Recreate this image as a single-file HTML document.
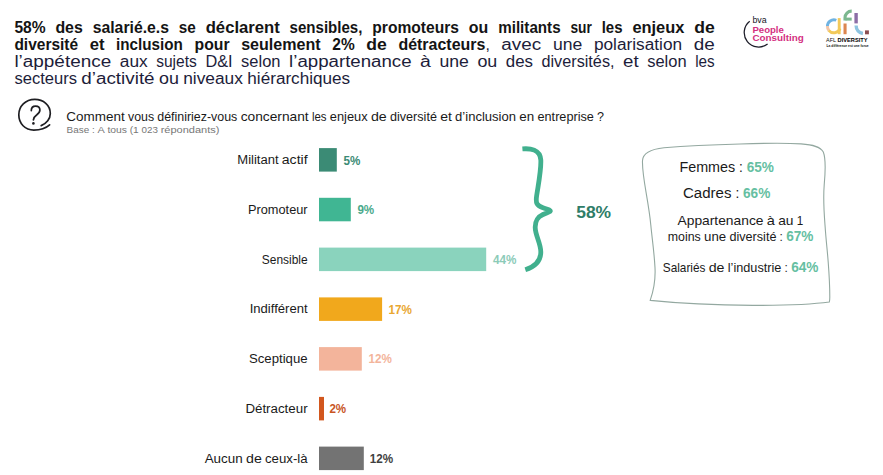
<!DOCTYPE html>
<html lang="fr">
<head>
<meta charset="utf-8">
<title>Diversité et inclusion</title>
<style>
html,body{margin:0;padding:0;background:#ffffff;}
body{width:883px;height:475px;overflow:hidden;font-family:'Liberation Sans', sans-serif;}
svg{display:block;position:absolute;left:0;top:0;}
svg text{font-family:"Liberation Sans", sans-serif;white-space:pre;}
</style>
</head>
<body>
<svg width="883" height="475" viewBox="0 0 883 475">
<rect x="0" y="0" width="883" height="475" fill="#ffffff"/>
<text x="14.4" y="33.1" textLength="31.2" lengthAdjust="spacingAndGlyphs" font-size="15.8" font-weight="bold" fill="#141414">58%</text>
<text x="55.4" y="33.1" textLength="27.4" lengthAdjust="spacingAndGlyphs" font-size="15.8" font-weight="bold" fill="#141414">des</text>
<text x="92.7" y="33.1" textLength="76.3" lengthAdjust="spacingAndGlyphs" font-size="15.8" font-weight="bold" fill="#141414">salarié.e.s</text>
<text x="178.8" y="33.1" textLength="17.0" lengthAdjust="spacingAndGlyphs" font-size="15.8" font-weight="bold" fill="#141414">se</text>
<text x="205.7" y="33.1" textLength="74.1" lengthAdjust="spacingAndGlyphs" font-size="15.8" font-weight="bold" fill="#141414">déclarent</text>
<text x="289.6" y="33.1" textLength="72.8" lengthAdjust="spacingAndGlyphs" font-size="15.8" font-weight="bold" fill="#141414">sensibles,</text>
<text x="372.3" y="33.1" textLength="86.7" lengthAdjust="spacingAndGlyphs" font-size="15.8" font-weight="bold" fill="#141414">promoteurs</text>
<text x="468.8" y="33.1" textLength="19.5" lengthAdjust="spacingAndGlyphs" font-size="15.8" font-weight="bold" fill="#141414">ou</text>
<text x="498.2" y="33.1" textLength="62.4" lengthAdjust="spacingAndGlyphs" font-size="15.8" font-weight="bold" fill="#141414">militants</text>
<text x="570.4" y="33.1" textLength="21.4" lengthAdjust="spacingAndGlyphs" font-size="15.8" font-weight="bold" fill="#141414">sur</text>
<text x="601.7" y="33.1" textLength="20.8" lengthAdjust="spacingAndGlyphs" font-size="15.8" font-weight="bold" fill="#141414">les</text>
<text x="632.4" y="33.1" textLength="52.0" lengthAdjust="spacingAndGlyphs" font-size="15.8" font-weight="bold" fill="#141414">enjeux</text>
<text x="694.2" y="33.1" textLength="20.5" lengthAdjust="spacingAndGlyphs" font-size="15.8" font-weight="bold" fill="#141414">de</text>
<text x="14.4" y="50.0" textLength="63.7" lengthAdjust="spacingAndGlyphs" font-size="15.8" font-weight="bold" fill="#141414">diversité</text>
<text x="89.7" y="50.0" textLength="14.8" lengthAdjust="spacingAndGlyphs" font-size="15.8" font-weight="bold" fill="#141414">et</text>
<text x="116.1" y="50.0" textLength="66.8" lengthAdjust="spacingAndGlyphs" font-size="15.8" font-weight="bold" fill="#141414">inclusion</text>
<text x="194.6" y="50.0" textLength="35.0" lengthAdjust="spacingAndGlyphs" font-size="15.8" font-weight="bold" fill="#141414">pour</text>
<text x="241.2" y="50.0" textLength="79.4" lengthAdjust="spacingAndGlyphs" font-size="15.8" font-weight="bold" fill="#141414">seulement</text>
<text x="332.3" y="50.0" textLength="22.4" lengthAdjust="spacingAndGlyphs" font-size="15.8" font-weight="bold" fill="#141414">2%</text>
<text x="366.3" y="50.0" textLength="20.5" lengthAdjust="spacingAndGlyphs" font-size="15.8" font-weight="bold" fill="#141414">de</text>
<text x="398.4" y="50.0" textLength="87.0" lengthAdjust="spacingAndGlyphs" font-size="15.8" font-weight="bold" fill="#141414">détracteurs</text>
<text x="485.4" y="50.0" textLength="4.4" lengthAdjust="spacingAndGlyphs" font-size="15.8" font-weight="normal" fill="#1d1d3a">,</text>
<text x="501.3" y="50.0" textLength="39.9" lengthAdjust="spacingAndGlyphs" font-size="15.8" font-weight="normal" fill="#1d1d3a">avec</text>
<text x="552.9" y="50.0" textLength="29.4" lengthAdjust="spacingAndGlyphs" font-size="15.8" font-weight="normal" fill="#1d1d3a">une</text>
<text x="593.9" y="50.0" textLength="88.2" lengthAdjust="spacingAndGlyphs" font-size="15.8" font-weight="normal" fill="#1d1d3a">polarisation</text>
<text x="693.7" y="50.0" textLength="21.0" lengthAdjust="spacingAndGlyphs" font-size="15.8" font-weight="normal" fill="#1d1d3a">de</text>
<text x="14.4" y="66.8" textLength="96.8" lengthAdjust="spacingAndGlyphs" font-size="15.8" font-weight="normal" fill="#1d1d3a">l’appétence</text>
<text x="119.8" y="66.8" textLength="27.9" lengthAdjust="spacingAndGlyphs" font-size="15.8" font-weight="normal" fill="#1d1d3a">aux</text>
<text x="156.2" y="66.8" textLength="40.6" lengthAdjust="spacingAndGlyphs" font-size="15.8" font-weight="normal" fill="#1d1d3a">sujets</text>
<text x="205.4" y="66.8" textLength="27.2" lengthAdjust="spacingAndGlyphs" font-size="15.8" font-weight="normal" fill="#1d1d3a">D&amp;I</text>
<text x="241.1" y="66.8" textLength="39.4" lengthAdjust="spacingAndGlyphs" font-size="15.8" font-weight="normal" fill="#1d1d3a">selon</text>
<text x="289.1" y="66.8" textLength="122.5" lengthAdjust="spacingAndGlyphs" font-size="15.8" font-weight="normal" fill="#1d1d3a">l’appartenance</text>
<text x="420.1" y="66.8" textLength="10.8" lengthAdjust="spacingAndGlyphs" font-size="15.8" font-weight="normal" fill="#1d1d3a">à</text>
<text x="439.4" y="66.8" textLength="29.4" lengthAdjust="spacingAndGlyphs" font-size="15.8" font-weight="normal" fill="#1d1d3a">une</text>
<text x="477.4" y="66.8" textLength="19.9" lengthAdjust="spacingAndGlyphs" font-size="15.8" font-weight="normal" fill="#1d1d3a">ou</text>
<text x="505.8" y="66.8" textLength="27.2" lengthAdjust="spacingAndGlyphs" font-size="15.8" font-weight="normal" fill="#1d1d3a">des</text>
<text x="541.5" y="66.8" textLength="73.0" lengthAdjust="spacingAndGlyphs" font-size="15.8" font-weight="normal" fill="#1d1d3a">diversités,</text>
<text x="623.1" y="66.8" textLength="15.6" lengthAdjust="spacingAndGlyphs" font-size="15.8" font-weight="normal" fill="#1d1d3a">et</text>
<text x="647.2" y="66.8" textLength="39.4" lengthAdjust="spacingAndGlyphs" font-size="15.8" font-weight="normal" fill="#1d1d3a">selon</text>
<text x="695.2" y="66.8" textLength="19.5" lengthAdjust="spacingAndGlyphs" font-size="15.8" font-weight="normal" fill="#1d1d3a">les</text>
<text x="14.4" y="84.2" textLength="62.6" lengthAdjust="spacingAndGlyphs" font-size="15.8" font-weight="normal" fill="#1d1d3a">secteurs</text>
<text x="81.3" y="84.2" textLength="73.3" lengthAdjust="spacingAndGlyphs" font-size="15.8" font-weight="normal" fill="#1d1d3a">d’activité</text>
<text x="159.0" y="84.2" textLength="19.9" lengthAdjust="spacingAndGlyphs" font-size="15.8" font-weight="normal" fill="#1d1d3a">ou</text>
<text x="183.2" y="84.2" textLength="59.7" lengthAdjust="spacingAndGlyphs" font-size="15.8" font-weight="normal" fill="#1d1d3a">niveaux</text>
<text x="247.3" y="84.2" textLength="102.9" lengthAdjust="spacingAndGlyphs" font-size="15.8" font-weight="normal" fill="#1d1d3a">hiérarchiques</text>
<text x="66.3" y="121.2" textLength="58.4" lengthAdjust="spacingAndGlyphs" font-size="12.2" font-weight="normal" fill="#1a1a1a">Comment</text>
<text x="128.0" y="121.2" textLength="26.1" lengthAdjust="spacingAndGlyphs" font-size="12.2" font-weight="normal" fill="#1a1a1a">vous</text>
<text x="157.3" y="121.2" textLength="80.0" lengthAdjust="spacingAndGlyphs" font-size="12.2" font-weight="normal" fill="#1a1a1a">définiriez-vous</text>
<text x="240.7" y="121.2" textLength="68.0" lengthAdjust="spacingAndGlyphs" font-size="12.2" font-weight="normal" fill="#1a1a1a">concernant</text>
<text x="311.9" y="121.2" textLength="14.6" lengthAdjust="spacingAndGlyphs" font-size="12.2" font-weight="normal" fill="#1a1a1a">les</text>
<text x="329.8" y="121.2" textLength="37.8" lengthAdjust="spacingAndGlyphs" font-size="12.2" font-weight="normal" fill="#1a1a1a">enjeux</text>
<text x="370.9" y="121.2" textLength="15.8" lengthAdjust="spacingAndGlyphs" font-size="12.2" font-weight="normal" fill="#1a1a1a">de</text>
<text x="390.0" y="121.2" textLength="46.9" lengthAdjust="spacingAndGlyphs" font-size="12.2" font-weight="normal" fill="#1a1a1a">diversité</text>
<text x="440.2" y="121.2" textLength="11.7" lengthAdjust="spacingAndGlyphs" font-size="12.2" font-weight="normal" fill="#1a1a1a">et</text>
<text x="455.1" y="121.2" textLength="60.9" lengthAdjust="spacingAndGlyphs" font-size="12.2" font-weight="normal" fill="#1a1a1a">d’inclusion</text>
<text x="519.3" y="121.2" textLength="14.9" lengthAdjust="spacingAndGlyphs" font-size="12.2" font-weight="normal" fill="#1a1a1a">en</text>
<text x="537.5" y="121.2" textLength="56.4" lengthAdjust="spacingAndGlyphs" font-size="12.2" font-weight="normal" fill="#1a1a1a">entreprise</text>
<text x="597.1" y="121.2" textLength="7.0" lengthAdjust="spacingAndGlyphs" font-size="12.2" font-weight="normal" fill="#1a1a1a">?</text>
<text x="66.6" y="133.0" textLength="22.6" lengthAdjust="spacingAndGlyphs" font-size="9.4" font-weight="normal" fill="#777777">Base</text>
<text x="91.9" y="133.0" textLength="2.7" lengthAdjust="spacingAndGlyphs" font-size="9.4" font-weight="normal" fill="#777777">:</text>
<text x="97.4" y="133.0" textLength="7.3" lengthAdjust="spacingAndGlyphs" font-size="9.4" font-weight="normal" fill="#777777">A</text>
<text x="107.4" y="133.0" textLength="19.6" lengthAdjust="spacingAndGlyphs" font-size="9.4" font-weight="normal" fill="#777777">tous</text>
<text x="129.7" y="133.0" textLength="9.1" lengthAdjust="spacingAndGlyphs" font-size="9.4" font-weight="normal" fill="#777777">(1</text>
<text x="141.6" y="133.0" textLength="16.4" lengthAdjust="spacingAndGlyphs" font-size="9.4" font-weight="normal" fill="#777777">023</text>
<text x="160.7" y="133.0" textLength="58.8" lengthAdjust="spacingAndGlyphs" font-size="9.4" font-weight="normal" fill="#777777">répondants)</text>
<rect x="319" y="148.1" width="17.8" height="23.5" fill="#3b8b75"/>
<text x="237.3" y="164.0" textLength="41.3" lengthAdjust="spacingAndGlyphs" font-size="12" font-weight="normal" fill="#1a1a1a">Militant</text>
<text x="281.8" y="164.0" textLength="25.8" lengthAdjust="spacingAndGlyphs" font-size="12" font-weight="normal" fill="#1a1a1a">actif</text>
<text x="343.6" y="165.2" textLength="16.8" lengthAdjust="spacingAndGlyphs" font-size="12.2" font-weight="bold" fill="#3b8b75">5%</text>
<rect x="319" y="197.8" width="31.8" height="23.5" fill="#40b693"/>
<text x="248.0" y="213.8" textLength="59.6" lengthAdjust="spacingAndGlyphs" font-size="12" font-weight="normal" fill="#1a1a1a">Promoteur</text>
<text x="357.4" y="214.2" textLength="16.8" lengthAdjust="spacingAndGlyphs" font-size="12.2" font-weight="bold" fill="#4aa98b">9%</text>
<rect x="319" y="247.6" width="167.2" height="23.5" fill="#8ad3bd"/>
<text x="261.8" y="263.5" textLength="45.8" lengthAdjust="spacingAndGlyphs" font-size="12" font-weight="normal" fill="#1a1a1a">Sensible</text>
<text x="492.9" y="263.9" textLength="23.4" lengthAdjust="spacingAndGlyphs" font-size="12.2" font-weight="bold" fill="#8ccbb8">44%</text>
<rect x="319" y="297.4" width="63.1" height="23.5" fill="#f1a81c"/>
<text x="249.7" y="313.2" textLength="57.9" lengthAdjust="spacingAndGlyphs" font-size="12" font-weight="normal" fill="#1a1a1a">Indifférent</text>
<text x="388.6" y="313.6" textLength="23.4" lengthAdjust="spacingAndGlyphs" font-size="12.2" font-weight="bold" fill="#e9a732">17%</text>
<rect x="319" y="347.1" width="42.8" height="23.5" fill="#f3b49b"/>
<text x="249.0" y="363.0" textLength="58.6" lengthAdjust="spacingAndGlyphs" font-size="12" font-weight="normal" fill="#1a1a1a">Sceptique</text>
<text x="368.6" y="363.4" textLength="23.4" lengthAdjust="spacingAndGlyphs" font-size="12.2" font-weight="bold" fill="#f3b49b">12%</text>
<rect x="319" y="396.9" width="5.0" height="23.5" fill="#d2571e"/>
<text x="245.4" y="412.8" textLength="62.2" lengthAdjust="spacingAndGlyphs" font-size="12" font-weight="normal" fill="#1a1a1a">Détracteur</text>
<text x="329.4" y="413.1" textLength="16.8" lengthAdjust="spacingAndGlyphs" font-size="12.2" font-weight="bold" fill="#c8551f">2%</text>
<rect x="319" y="446.6" width="44.8" height="23.5" fill="#737373"/>
<text x="204.7" y="462.5" textLength="38.0" lengthAdjust="spacingAndGlyphs" font-size="12" font-weight="normal" fill="#1a1a1a">Aucun</text>
<text x="246.0" y="462.5" textLength="15.8" lengthAdjust="spacingAndGlyphs" font-size="12" font-weight="normal" fill="#1a1a1a">de</text>
<text x="265.0" y="462.5" textLength="42.6" lengthAdjust="spacingAndGlyphs" font-size="12" font-weight="normal" fill="#1a1a1a">ceux-là</text>
<text x="369.8" y="462.9" textLength="23.4" lengthAdjust="spacingAndGlyphs" font-size="12.2" font-weight="bold" fill="#404040">12%</text>
<path d="M522.4 148.9 C530 148.3 540.2 149 540.8 160 C541.3 170 538.2 185 536.6 196 C535.6 203 536.5 205.5 543 207.8 C548 209.5 550.4 210 550.4 211 C550.4 212 547 212.6 543 214.5 C537 217.3 535.4 221 535.2 227 C535 235 540.8 243 540.8 252 C540.8 262 534 267 525.3 269.8" fill="none" stroke="#41b08e" stroke-width="4.8" stroke-linecap="butt" stroke-linejoin="round"/>
<text x="576.2" y="217.6" textLength="34.9" lengthAdjust="spacingAndGlyphs" font-size="17.4" font-weight="bold" fill="#2f7d68">58%</text>
<path d="M642.5 160.5 C643 152 652 149 664 147.7 C690 145.5 715 144.6 740 144 C760 143.3 785 142.8 801 143.9 C813 144.8 820.5 146.5 823.3 152 C825.6 158 825.6 170 824.2 185 C823 200 824 212 825 225 C826 240 827.3 250 828.2 262 C829.2 275 829.8 288 829.8 297 C829.8 299.5 829.6 301 829.3 302 C815 304 790 305.4 753 305.4 C720 305.2 680 303.5 650.2 300.4 C653.5 291 655.6 279 655 267.6 C654 250 652 238 650.8 225 C648.5 200 641.8 176 642.5 160.5 Z" fill="#ffffff" stroke="#93a8a0" stroke-width="1.1"/>
<text x="679.4" y="172.0" textLength="55.8" lengthAdjust="spacingAndGlyphs" font-size="14" font-weight="normal" fill="#1a1a1a">Femmes</text>
<text x="739.1" y="172.0" textLength="3.8" lengthAdjust="spacingAndGlyphs" font-size="14" font-weight="normal" fill="#1a1a1a">:</text>
<text x="746.7" y="172.0" textLength="27.3" lengthAdjust="spacingAndGlyphs" font-size="14" font-weight="bold" fill="#66bfa2">65%</text>
<text x="683.0" y="198.0" textLength="48.5" lengthAdjust="spacingAndGlyphs" font-size="14" font-weight="normal" fill="#1a1a1a">Cadres</text>
<text x="735.4" y="198.0" textLength="3.8" lengthAdjust="spacingAndGlyphs" font-size="14" font-weight="normal" fill="#1a1a1a">:</text>
<text x="743.0" y="198.0" textLength="27.3" lengthAdjust="spacingAndGlyphs" font-size="14" font-weight="bold" fill="#66bfa2">66%</text>
<text x="677.5" y="225.4" textLength="86.0" lengthAdjust="spacingAndGlyphs" font-size="12.2" font-weight="normal" fill="#1a1a1a">Appartenance</text>
<text x="766.8" y="225.4" textLength="8.1" lengthAdjust="spacingAndGlyphs" font-size="12.2" font-weight="normal" fill="#1a1a1a">à</text>
<text x="778.2" y="225.4" textLength="15.3" lengthAdjust="spacingAndGlyphs" font-size="12.2" font-weight="normal" fill="#1a1a1a">au</text>
<text x="796.7" y="225.4" textLength="6.5" lengthAdjust="spacingAndGlyphs" font-size="12.2" font-weight="normal" fill="#1a1a1a">1</text>
<text x="667.8" y="241.2" textLength="33.0" lengthAdjust="spacingAndGlyphs" font-size="12.2" font-weight="normal" fill="#1a1a1a">moins</text>
<text x="704.1" y="241.2" textLength="22.1" lengthAdjust="spacingAndGlyphs" font-size="12.2" font-weight="normal" fill="#1a1a1a">une</text>
<text x="729.5" y="241.2" textLength="46.9" lengthAdjust="spacingAndGlyphs" font-size="12.2" font-weight="normal" fill="#1a1a1a">diversité</text>
<text x="779.6" y="241.2" textLength="3.3" lengthAdjust="spacingAndGlyphs" font-size="12.2" font-weight="normal" fill="#1a1a1a">:</text>
<text x="786.2" y="241.2" textLength="27.3" lengthAdjust="spacingAndGlyphs" font-size="14" font-weight="bold" fill="#66bfa2">67%</text>
<text x="662.8" y="271.9" textLength="42.6" lengthAdjust="spacingAndGlyphs" font-size="12.2" font-weight="normal" fill="#1a1a1a">Salariés</text>
<text x="708.7" y="271.9" textLength="15.8" lengthAdjust="spacingAndGlyphs" font-size="12.2" font-weight="normal" fill="#1a1a1a">de</text>
<text x="727.8" y="271.9" textLength="53.6" lengthAdjust="spacingAndGlyphs" font-size="12.2" font-weight="normal" fill="#1a1a1a">l’industrie</text>
<text x="784.6" y="271.9" textLength="3.3" lengthAdjust="spacingAndGlyphs" font-size="12.2" font-weight="normal" fill="#1a1a1a">:</text>
<text x="791.2" y="271.9" textLength="27.3" lengthAdjust="spacingAndGlyphs" font-size="14" font-weight="bold" fill="#66bfa2">64%</text>
<path d="M41.2 125.6 C46.5 123.6 50.3 118.8 50.3 113.4 C50.3 105.2 43.4 99.4 34.8 99.4 C25.4 99.4 18.8 106.2 18.8 114.8 C18.8 123.6 25.2 130.1 33.8 130.1 C40.4 130.1 46.2 128 49.6 124.9" fill="none" stroke="#1e1e22" stroke-width="1.7" stroke-linecap="round"/>
<path d="M31.3 110.6 C31.3 107.6 33.1 106.1 35.6 106.1 C38.2 106.1 39.9 107.7 39.9 110 C39.9 112.3 38.5 113.6 36.6 115 C34.6 116.4 33.6 117.6 33.4 119.8" fill="none" stroke="#1e1e22" stroke-width="1.7" stroke-linecap="round"/>
<circle cx="33.4" cy="123.4" r="1.3" fill="#1e1e22"/>
<path d="M749.7 21.3 A14 14 0 1 0 767.6 43.9" fill="none" stroke="#1c1c28" stroke-width="1.25"/>
<text x="752.4" y="22.8" textLength="14.2" lengthAdjust="spacingAndGlyphs" font-size="9" font-weight="normal" fill="#15151f">bva</text>
<text x="752.4" y="32.7" textLength="31.5" lengthAdjust="spacingAndGlyphs" font-size="9" font-weight="bold" fill="#d4307f">People</text>
<text x="752.4" y="40.9" textLength="51.5" lengthAdjust="spacingAndGlyphs" font-size="9" font-weight="bold" fill="#d4307f">Consulting</text>
<path d="M827.40 26.53 A6.5 6.5 0 0 1 836.33 20.27" fill="none" stroke="#6fb3e2" stroke-width="2.9"/>
<path d="M827.40 26.07 A6.5 6.5 0 0 0 828.92 30.48" fill="none" stroke="#f3c6a8" stroke-width="2.9"/>
<path d="M828.78 30.30 A6.5 6.5 0 0 0 840.01 28.52" fill="none" stroke="#f2c95a" stroke-width="2.9"/>
<path d="M839.2 18.1 L839.2 34.2" fill="none" stroke="#f2c95a" stroke-width="2.9"/>
<path d="M845 20.6 L845 17.8 A6.6 6.6 0 0 1 851.7 11.1" fill="none" stroke="#7cb88f" stroke-width="3.1"/>
<path d="M845.5 19.1 L851.7 19.1" fill="none" stroke="#7cb88f" stroke-width="3"/>
<path d="M845.05 23.5 L845.05 34.2" fill="none" stroke="#dc8650" stroke-width="3.1"/>
<path d="M856.1 13 L856.1 23.4" fill="none" stroke="#8c6ea6" stroke-width="3.4"/>
<path d="M856.1 25.6 A8 8 0 0 0 862.9 33.5" fill="none" stroke="#8ec4e0" stroke-width="3.4"/>
<rect x="865" y="30.4" width="3.9" height="3.9" fill="#8b4f52"/>
<text x="826.0" y="41.9" textLength="10.0" lengthAdjust="spacingAndGlyphs" font-size="4.6" font-weight="normal" fill="#111">AFL</text>
<text x="837.6" y="41.9" textLength="30.0" lengthAdjust="spacingAndGlyphs" font-size="4.7" font-weight="bold" fill="#000">DIVERSITY</text>
<text x="826.6" y="46.6" textLength="42.0" lengthAdjust="spacingAndGlyphs" font-size="3.3" font-weight="bold" fill="#111">La différence est une force</text>
</svg>
</body>
</html>
